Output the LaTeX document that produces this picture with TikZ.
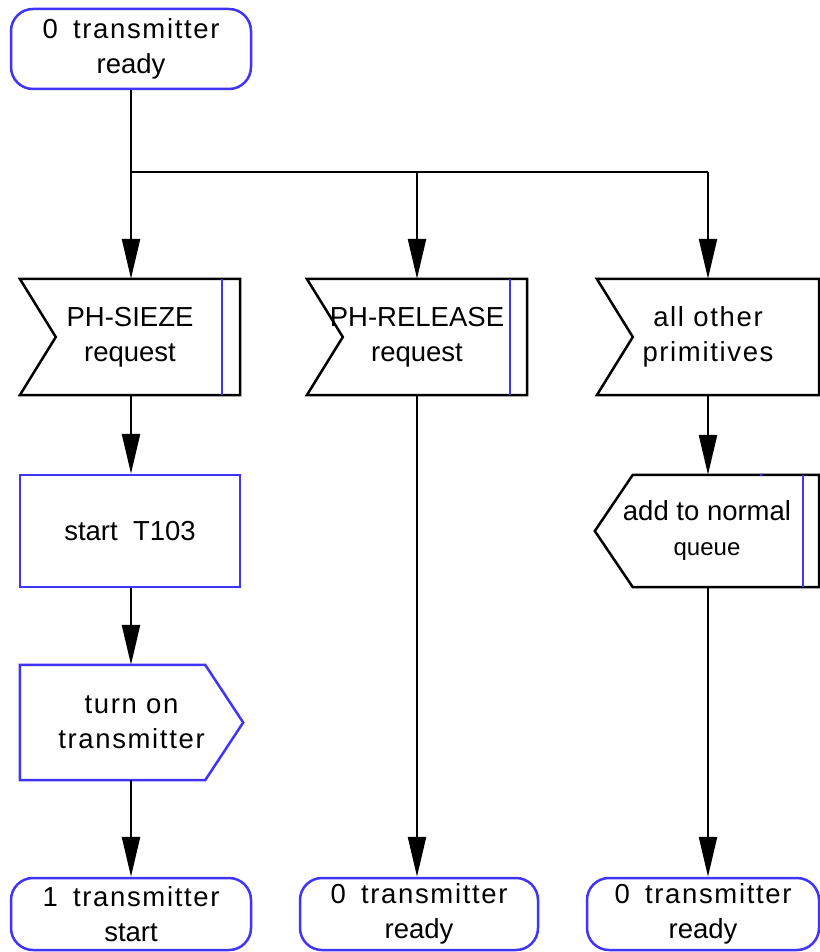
\documentclass[tikz,border=0pt]{standalone}
\usepackage{fontspec}
\setmainfont{Liberation Sans}
\newfontfamily\widefont[LetterSpace=6]{Liberation Sans}
\usetikzlibrary{arrows.meta, calc}
\definecolor{sdlblue}{RGB}{64,52,250}

\tikzset{
  txt/.style={align=center, inner sep=0pt, font=\fontsize{27.5}{35}\selectfont},
  state/.style={txt, draw=sdlblue, line width=2.5pt, rounded corners=22pt,
                minimum width=240pt, minimum height=80pt},
  sigbox/.style={txt, minimum width=220pt, minimum height=116pt},
  taskbox/.style={txt, draw=sdlblue, line width=2.5pt,
                  minimum width=220pt, minimum height=112pt},
  outline/.style={line width=2.5pt, line join=miter},
  blueline/.style={draw=sdlblue, line width=2.5pt},
  wire/.style={line width=2.5pt},
  flow/.style={line width=2.5pt, -{Triangle[length=40pt,width=18pt]}}
}

\begin{document}
\begin{tikzpicture}[x=1pt, y=-1pt]

    \useasboundingbox (0,0) rectangle (819,952);

    % --- START STATE ---
    \node[state] (top) at (131,49) {0~~{\widefont transmitter}\\ready};

    % --- INPUT SIGNALS ---
    \node[sigbox] (sig1) at (130,337) {PH-SIEZE\\request};
    \node[sigbox] (sig2) at (417,337) {PH-RELEASE\\request};
    \node[sigbox, minimum width=222pt] (sig3) at (708,337) {{\widefont all other}\\{\widefont primitives}};

    \foreach \s in {sig1, sig2, sig3}
      \draw[outline] (\s.north west) -- (\s.north east) -- (\s.south east)
                     -- (\s.south west) -- ([xshift=36pt]\s.west) -- cycle;
    \draw[blueline] ([xshift=-18pt]sig1.north east) -- ([xshift=-18pt]sig1.south east);
    \draw[blueline] ([xshift=-17pt]sig2.north east) -- ([xshift=-17pt]sig2.south east);

    % --- TASK AND OUTPUT ---
    \node[taskbox] (task) at (130,531) {start~~T103};
    \node[sigbox, minimum width=223pt, minimum height=115pt] (out) at (131.5,722.5)
         {{\widefont turn on}\\{\widefont transmitter}};
    \draw[outline, draw=sdlblue] (out.north west)
         -- ([xshift=-38pt]out.north east) -- (out.east)
         -- ([xshift=-38pt]out.south east) -- (out.south west) -- cycle;

    % --- SAVE TO QUEUE ---
    \node[sigbox, minimum width=224pt, minimum height=112pt] (queue) at (707,531)
         {add to normal\\{\fontsize{24}{30}\selectfont queue}};
    \draw[outline] (queue.west) -- ([xshift=38pt]queue.north west)
         -- (queue.north east) -- (queue.south east)
         -- ([xshift=38pt]queue.south west) -- cycle;
    \draw[blueline] ([xshift=-16pt]queue.north east) -- ([xshift=-16pt]queue.south east);
    \fill[sdlblue] ([xshift=-58pt]queue.north east) circle (1.5pt);

    % --- NEXT STATES ---
    \node[state, minimum height=72pt] (end1) at (131,914) {1~~{\widefont transmitter}\\start};
    \node[state, minimum width=238pt, minimum height=72pt] (end2) at (419,914) {0~~{\widefont transmitter}\\ready};
    \node[state, minimum width=232pt, minimum height=72pt] (end3) at (703,914) {0~~{\widefont transmitter}\\ready};

    % --- CONNECTORS ---
    \coordinate (split) at (131,172);
    \draw[wire] (top.south) -- (split);
    \draw[wire] (split) -- (split -| sig3.north);
    \draw[flow] (split) -- (split |- sig1.north);
    \draw[flow] (split -| sig2.north) -- (sig2.north);
    \draw[flow] (split -| sig3.north) -- (sig3.north);

    \draw[flow] (split |- sig1.south) -- (split |- task.north);
    \draw[flow] (split |- task.south) -- (split |- out.north);
    \draw[flow] (split |- out.south) -- (split |- end1.north);
    \draw[flow] (sig2.south) -- (sig2.south |- end2.north);
    \draw[flow] (sig3.south) -- (sig3.south |- queue.north);
    \draw[flow] (sig3.south |- queue.south) -- (sig3.south |- end3.north);

\end{tikzpicture}
\end{document}
